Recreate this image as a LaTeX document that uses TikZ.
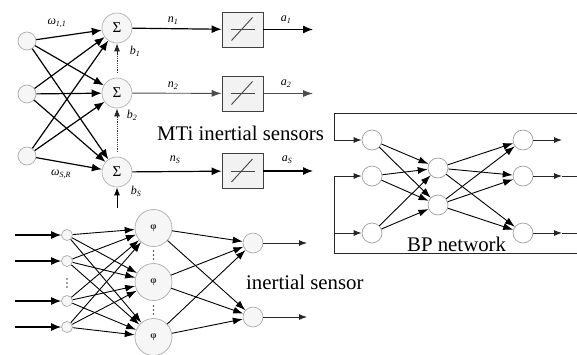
\documentclass[tikz,border=0pt]{standalone}
\usepackage{fontspec}
\setmainfont{Liberation Serif}
\newfontfamily\tnr{Liberation Serif}
\usetikzlibrary{arrows.meta}
\begin{document}
\begin{tikzpicture}[x=1pt,y=-1pt,
  inc/.style={circle,draw=gray!65,fill=gray!7,line width=0.7pt,inner sep=0pt,minimum size=#1},
  inc/.default=18pt,
  wc/.style={circle,draw=gray!75,fill=white,line width=0.7pt,inner sep=0pt,minimum size=20pt},
  sig/.style={circle,draw=gray!60,fill=gray!7,line width=0.7pt,inner sep=0pt,minimum size=30pt,font=\tnr\fontsize{15}{15}\selectfont},
  tfbox/.style={draw=gray!50!black,fill=gray!10,line width=0.8pt,minimum width=41pt,minimum height=35pt,inner sep=0pt},
  conn/.style={line width=1.2pt,-{Latex[length=10pt,width=8pt]}},
  thinconn/.style={line width=0.9pt,gray!60!black,-{Latex[length=10pt,width=7pt]}},
  mid/.style={line width=0.9pt,-{Latex[length=10pt,width=7pt]}},
  lbl/.style={font=\tnr\itshape\fontsize{12}{12}\selectfont,inner sep=0pt},
  big/.style={font=\tnr\fontsize{20.8}{21}\selectfont,inner sep=0pt,anchor=base west},
  frame/.style={line width=0.9pt,gray!30!black},
  sm/.style={-{Latex[length=8pt,width=6pt]}},
  dotc/.style={gray!50!black}
]
\useasboundingbox (0,0) rectangle (577,354);
% ---------------- top-left network
\node[inc] (x1) at (27,41) {};
\node[inc] (x2) at (27,94) {};
\node[inc] (x3) at (27,156) {};
\node[sig] (s1) at (117,28) {Σ};
\node[sig] (s2) at (117,93) {Σ};
\node[sig] (s3) at (117,172) {Σ};
\foreach \i in {1,2,3}{\foreach \j in {1,2,3}{\draw[conn] (x\i) -- (s\j);}}
\node[lbl] (w11) at (57,23) {ω\textsubscript{1,1}};
\node[lbl] (wsr) at (61,174) {ω\textsubscript{S,R}};
% biases
\coordinate (bb1) at (117,73);
\coordinate (bb2) at (117,152);
\coordinate (bb3) at (117,208);
\draw[line width=0.8pt,densely dotted,gray!50!black] (bb1) -- ++(0,-18);
\draw[line width=0.9pt,gray!30!black,-{Latex[length=8pt,width=6pt]}] ([yshift=18pt]bb1) -- (s1.south);
\draw[line width=0.8pt,densely dotted,gray!50!black] (bb2) -- ++(0,-34);
\draw[line width=0.9pt,gray!30!black,-{Latex[length=8pt,width=6pt]}] ([yshift=34pt]bb2) -- (s2.south);
\draw[line width=1pt,black,-{Latex[length=8pt,width=6pt]}] (bb3) -- (s3.south);
\node[lbl] (lb1) at (135,51) {b\textsubscript{1}};
\node[lbl] (lb2) at (132,115) {b\textsubscript{2}};
\node[lbl] (lb3) at (136,191) {b\textsubscript{S}};
% transfer boxes
\node[tfbox] (f1) at (242.5,29.5) {};
\node[tfbox] (f2) at (242.5,93.5) {};
\node[tfbox] (f3) at (242.5,171) {};
\foreach \k in {1,2,3}{
  \draw[gray!55!black,line width=0.9pt] ([xshift=-12pt]f\k.center) -- ([xshift=12pt]f\k.center);
  \draw[gray!55!black,line width=0.9pt] ([shift={(-11pt,-11pt)}]f\k.center) -- ([shift={(10pt,12pt)}]f\k.center);
}
\draw[conn] (s1) -- (f1);
\draw[thinconn] (s2) -- (f2);
\draw[conn] (s3) -- (f3);
\coordinate (ae1) at (313,29.5);
\coordinate (ae2) at (313,93.5);
\coordinate (ae3) at (313,171);
\draw[conn] (f1) -- (ae1);
\draw[thinconn] (f2) -- (ae2);
\draw[conn] (f3) -- (ae3);
\node[lbl] (n1) at (173,21) {n\textsubscript{1}};
\node[lbl] (n2) at (173,86) {n\textsubscript{2}};
\node[lbl] (n3) at (175,160) {n\textsubscript{S}};
\node[lbl] (a1) at (286,20) {a\textsubscript{1}};
\node[lbl] (a2) at (286,84) {a\textsubscript{2}};
\node[lbl] (a3) at (287,160) {a\textsubscript{S}};
\node[big] (mti) at (157,140) {MTi inertial sensors};
% ---------------- right BP network
\node[wc] (r1) at (372,140) {};
\node[wc] (r2) at (372,176) {};
\node[wc] (r3) at (372,233) {};
\node[wc] (h1) at (438,168) {};
\node[wc] (h2) at (438,205) {};
\node[wc] (o1) at (523,140) {};
\node[wc] (o2) at (523,176) {};
\node[wc] (o3) at (523,233) {};
\foreach \i in {1,2,3}{\foreach \j in {1,2}{\draw[mid] (r\i) -- (h\j);}}
\foreach \i in {1,2}{\foreach \j in {1,2,3}{\draw[mid] (h\i) -- (o\j);}}
\coordinate (ftr) at (577,113);
\coordinate (ftl) at (334,113);
\coordinate (fbr) at (577,253);
\coordinate (fbl) at (334,253);
\draw[frame,sm] (ftr) -- (ftl) |- (r1.west);
\draw[frame,sm] (fbr) -- (fbl) |- (r2.west);
\draw[frame,sm] (fbl |- r3) -- (r3.west);
\coordinate (oe1) at (562,140);
\coordinate (oe2) at (562,176);
\coordinate (oe3) at (562,233);
\coordinate (of2) at (577,176);
\coordinate (of3) at (577,233);
\draw[frame,sm] (o1) -- (oe1);
\draw[frame,sm] (o2) -- (oe2);
\draw[frame,sm] (o3) -- (oe3);
\draw[frame] (oe2) -- (of2);
\draw[frame] (oe3) -- (of3);
\node[big] (bp) at (407,251) {BP network};
% ---------------- bottom-left network
\node[inc=11pt] (p1) at (67,235) {};
\node[inc=11pt] (p2) at (67,261) {};
\node[inc=11pt] (p3) at (67,301) {};
\node[inc=11pt] (p4) at (67,327) {};
\foreach \k/\yy in {1/235,2/261,3/301,4/327}{
  \coordinate (pin\k) at (15,\yy);
  \draw[conn] (pin\k) -- (p\k);
}
\node[inc=37pt] (q1) at (153.5,228) {};
\node[inc=37pt] (q2) at (153.5,282) {};
\node[inc=37pt] (q3) at (153.5,337) {};
\foreach \k in {1,2,3}{\node[font=\tnr\bfseries\fontsize{10}{10}\selectfont,inner sep=0pt,text=gray!40!black] (phi\k) at (q\k) {φ};}
\node[inc=20pt] (u1) at (253,243) {};
\node[inc=20pt] (u2) at (253,317) {};
\foreach \i in {1,2,3,4}{\foreach \j in {1,2,3}{\draw[mid] (p\i) -- (q\j);}}
\foreach \i in {1,2,3}{\foreach \j in {1,2}{\draw[mid] (q\i) -- (u\j);}}
% vertical ellipsis dots
\foreach \yy in {279,283,287}{\fill[dotc] (67,\yy) circle (0.8pt);}
\foreach \yy in {251,255,259,306,310,314}{\fill[dotc] (153.5,\yy) circle (0.8pt);}
\coordinate (ue1) at (307,243);
\coordinate (ue2) at (307,317);
\draw[frame,sm] (u1) -- (ue1);
\draw[frame,sm] (u2) -- (ue2);
\node[big] (ins) at (246,289) {inertial sensor};
\end{tikzpicture}
\end{document}
